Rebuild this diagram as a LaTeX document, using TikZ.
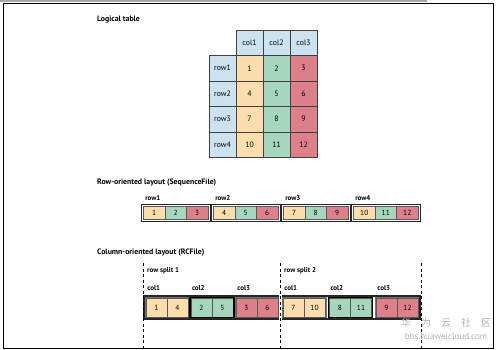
\documentclass[tikz,border=0pt]{standalone}
\usepackage{fontspec}
\setmainfont{PT Sans}
\newfontfamily\cjk{Noto Sans CJK SC}
\usepackage{xcolor}
\usepackage{tikz}
\usetikzlibrary{positioning,fit}

\definecolor{peach}{RGB}{252,222,174}
\definecolor{mint}{RGB}{166,214,190}
\definecolor{rose}{RGB}{221,128,138}
\definecolor{sky}{RGB}{204,226,241}

\begin{document}
\begin{tikzpicture}[x=1pt, y=-1pt,
  title/.style={font=\bfseries\fontsize{7.8}{9}\selectfont, inner sep=0pt, anchor=west},
  lbl/.style={font=\bfseries\fontsize{7}{8}\selectfont, inner sep=0pt, anchor=base west},
  tab/.style={draw=black!75, line width=0.7pt, minimum width=27pt, minimum height=25.5pt, inner sep=0pt, outer sep=0pt, font=\fontsize{7.8}{9}\selectfont},
  rc/.style={draw=black!65, line width=0.5pt, minimum width=21.5pt, minimum height=13pt, inner sep=0pt, outer sep=0pt, font=\fontsize{7.4}{8}\selectfont},
  cc/.style={rc, minimum width=21pt, minimum height=19pt},
  grp/.style={draw=black!85, line width=0.9pt, inner sep=2pt},
  cg/.style={draw=black!55, line width=0.5pt, inner sep=1pt},
  cgk/.style={draw=black, line width=1.4pt, inner sep=1pt},
  split/.style={draw=black, line width=0.6pt, dash pattern=on 3pt off 2.5pt}]

\useasboundingbox (0,0) rectangle (500,350);
\fill[black!35] (0,0) rectangle (427,1.8);
\draw[line width=0.8pt] (3,3) rectangle (493,348);

% logical table
\node[title] (t1) at (97,19.5) {Logical table};

\node[tab, fill=sky, anchor=north west] (h1) at (236,30) {col1};
\node[tab, fill=sky, right=0pt of h1] (h2) {col2};
\node[tab, fill=sky, right=0pt of h2] (h3) {col3};
\node[tab, fill=sky, anchor=north east] (r1) at (h1.south west) {row1};
\node[tab, fill=sky, below=0pt of r1] (r2) {row2};
\node[tab, fill=sky, below=0pt of r2] (r3) {row3};
\node[tab, fill=sky, below=0pt of r3] (r4) {row4};

\node[tab, fill=peach, below=0pt of h1] (v1) {1};
\node[tab, fill=mint, below=0pt of h2] (v2) {2};
\node[tab, fill=rose, below=0pt of h3] (v3) {3};
\node[tab, fill=peach, below=0pt of v1] (v4) {4};
\node[tab, fill=mint, below=0pt of v2] (v5) {5};
\node[tab, fill=rose, below=0pt of v3] (v6) {6};
\node[tab, fill=peach, below=0pt of v4] (v7) {7};
\node[tab, fill=mint, below=0pt of v5] (v8) {8};
\node[tab, fill=rose, below=0pt of v6] (v9) {9};
\node[tab, fill=peach, below=0pt of v7] (v10) {10};
\node[tab, fill=mint, below=0pt of v8] (v11) {11};
\node[tab, fill=rose, below=0pt of v9] (v12) {12};

% row-oriented layout
\node[title] (t2) at (97,182.5) {Row-oriented layout (SequenceFile)};

\node[rc, fill=peach, anchor=west] (a1) at (143.5,212.5) {1};
\node[rc, fill=mint, right=0pt of a1] (a2) {2};
\node[rc, fill=rose, right=0pt of a2] (a3) {3};
\node[rc, fill=peach, right=5.5pt of a3] (a4) {4};
\node[rc, fill=mint, right=0pt of a4] (a5) {5};
\node[rc, fill=rose, right=0pt of a5] (a6) {6};
\node[rc, fill=peach, right=5.5pt of a6] (a7) {7};
\node[rc, fill=mint, right=0pt of a7] (a8) {8};
\node[rc, fill=rose, right=0pt of a8] (a9) {9};
\node[rc, fill=peach, right=5.5pt of a9] (a10) {10};
\node[rc, fill=mint, right=0pt of a10] (a11) {11};
\node[rc, fill=rose, right=0pt of a11] (a12) {12};

\node[grp, fit=(a1)(a3)] (ga) {};
\node[grp, fit=(a4)(a6)] (gb) {};
\node[grp, fit=(a7)(a9)] (gc) {};
\node[grp, fit=(a10)(a12)] (gd) {};

\node[lbl] (la) at ([xshift=4pt, yshift=3.5pt]ga.north west) {row1};
\node[lbl] (lb) at ([xshift=4pt, yshift=3.5pt]gb.north west) {row2};
\node[lbl] (lc) at ([xshift=4pt, yshift=3.5pt]gc.north west) {row3};
\node[lbl] (ld) at ([xshift=4pt, yshift=3.5pt]gd.north west) {row4};

% column-oriented layout
\node[title] (t3) at (97,253) {Column-oriented layout (RCFile)};

\node[cc, fill=peach, anchor=west] (c1) at (146,307.5) {1};
\node[cc, fill=peach, right=0pt of c1] (c4) {4};
\node[cc, fill=mint, right=3pt of c4] (c2) {2};
\node[cc, fill=mint, right=0pt of c2] (c5) {5};
\node[cc, fill=rose, right=3pt of c5] (c3) {3};
\node[cc, fill=rose, right=0pt of c3] (c6) {6};
\node[cc, fill=peach, right=5pt of c6] (c7) {7};
\node[cc, fill=peach, right=0pt of c7] (c10) {10};
\node[cc, fill=mint, right=4.5pt of c10] (c8) {8};
\node[cc, fill=mint, right=0pt of c8] (c11) {11};
\node[cc, fill=rose, right=4.5pt of c11] (c9) {9};
\node[cc, fill=rose, right=0pt of c9] (c12) {12};

\node[cg, fit=(c1)(c4)] (g1) {};
\node[cgk, fit=(c2)(c5)] (g2) {};
\node[cg, fit=(c3)(c6)] (g3) {};
\node[cg, fit=(c7)(c10)] (g4) {};
\node[cgk, fit=(c8)(c11)] (g5) {};
\node[cg, fit=(c9)(c12)] (g6) {};
\node[draw=black!85, line width=1.2pt, inner sep=0.8pt, fit=(g1)(g6)] (rcf) {};

\node[lbl] (k1) at ([xshift=2.5pt, yshift=6pt]g1.north west) {col1};
\node[lbl] (k2) at ([xshift=2.5pt, yshift=6pt]g2.north west) {col2};
\node[lbl] (k3) at ([xshift=2.5pt, yshift=6pt]g3.north west) {col3};
\node[lbl] (k4) at ([xshift=2.5pt, yshift=6pt]g4.north west) {col1};
\node[lbl] (k5) at ([xshift=2.5pt, yshift=6pt]g5.north west) {col2};
\node[lbl] (k6) at ([xshift=2.5pt, yshift=6pt]g6.north west) {col3};

\node[lbl] (s1) at (147,272) {row split 1};
\node[lbl] (s2) at (284,272) {row split 2};

\coordinate (p1) at (143,263);
\coordinate (q1) at (143,348);
\coordinate (p2) at (280.5,263);
\coordinate (q2) at (280.5,348);
\coordinate (p3) at (421,263);
\coordinate (q3) at (421,348);
\draw[white, line width=2.4pt] (p2|-rcf.north) -- (p2|-rcf.south);
\draw[split] (p1) -- (q1);
\draw[split] (p2) -- (q2);
\draw[split] (p3) -- (q3);

% watermark
\node[text=black!30, font=\cjk\fontsize{10}{11}\selectfont, inner sep=0pt] (wm1) at (446,323) {华\hspace{1em}为\hspace{1em}云\hspace{1em}社\hspace{1em}区};
\node[text=black!30, font=\fontsize{9}{10}\selectfont, inner sep=0pt] (wm2) at (446,336) {bbs.huaweicloud.com};

\end{tikzpicture}
\end{document}
